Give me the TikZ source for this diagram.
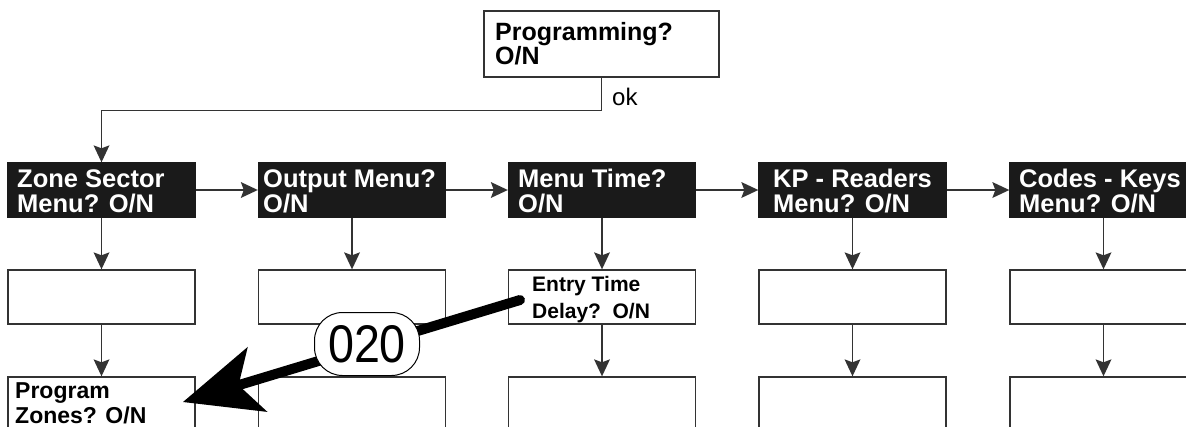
\documentclass[tikz,border=0pt]{standalone}
\usepackage{fontspec}
\setmainfont{Liberation Sans}
\usetikzlibrary{arrows.meta,calc}
\definecolor{menufill}{HTML}{1A1A1A}
\definecolor{edge}{HTML}{333333}
\tikzset{
  box/.style={draw=edge, line width=1.4pt, fill=white, minimum width=187pt,
    minimum height=54pt, inner sep=0pt},
  menubox/.style={box, fill=menufill, draw=menufill},
  topbox/.style={box, minimum width=235pt, minimum height=66pt},
  menutext/.style={text=white, font=\bfseries\fontsize{25.5}{25}\selectfont,
    align=left, inner sep=0pt, anchor=base west},
  itemtext/.style={font=\bfseries\fontsize{21}{27}\selectfont,
    align=left, inner sep=0pt, anchor=base west},
  flow/.style={draw=edge, line width=1.3pt,
    -{Stealth[length=17pt,width=16pt,inset=3pt,line width=0pt]}},
  pointer/.style={line width=10pt, line cap=round, draw=black,
    -{Stealth[length=78pt,width=68pt,inset=20pt,line width=0pt]}},
  badge/.style={draw=black, line width=1pt, fill=white, rounded corners=28pt,
    minimum width=105pt, minimum height=63pt, inner sep=0pt,
    font=\fontsize{53}{53}\selectfont}
}
\begin{document}
\begin{tikzpicture}[x=1pt,y=-1pt]
\clip (0,0) rectangle (1186,426);
\fill[white] (0,0) rectangle (1186,426);

% start question (text nodes are placed by the baseline of their last line)
\node[topbox] (prog) at (601.5,44) {};
\node[itemtext, font=\bfseries\fontsize{25}{24}\selectfont] (progtxt) at (495,64) {Programming?\\O/N};

% main menus
\node[menubox] (m1) at (101.5,190) {};
\node[menubox] (m2) at (352,190) {};
\node[menubox] (m3) at (602,190) {};
\node[menubox] (m4) at (852.5,190) {};
\node[menubox] (m5) at (1103.5,190) {};
\node[menutext] (m1t) at (17,212) {Zone Sector\\Menu? O/N};
\node[menutext] (m2t) at (263,212) {Output Menu?\\O/N};
\node[menutext] (m3t) at (518,212) {Menu Time?\\O/N};
\node[menutext] (m4t) at (773,212) {KP - Readers\\Menu? O/N};
\node[menutext] (m5t) at (1019,212) {Codes - Keys\\Menu? O/N};

% first sub-level
\node[box] (a1) at (101.5,297) {};
\node[box] (a2) at (352,297) {};
\node[box] (a3) at (602,297) {};
\node[box] (a4) at (852.5,297) {};
\node[box] (a5) at (1103.5,297) {};
\node[itemtext] (a3t) at (532,318) {Entry Time\\Delay?\hspace{0.55em}O/N};

% second sub-level
\node[box] (b1) at (101.5,404) {};
\node[box] (b2) at (352,404) {};
\node[box] (b3) at (602,404) {};
\node[box] (b4) at (852.5,404) {};
\node[box] (b5) at (1103.5,404) {};
\node[itemtext, font=\bfseries\fontsize{23}{25}\selectfont] (b1t) at (15,423) {Program\\Zones? O/N};

% flow lines
\draw[flow] (prog.south) -- ++(0,33) -| (m1.north);
\node[anchor=base west, inner sep=0pt, font=\fontsize{24}{24}\selectfont] (ok) at (612,105) {ok};
\foreach \i/\j in {1/2,2/3,3/4,4/5} \draw[flow] (m\i.east) -- (m\j.west);
\foreach \i in {1,...,5} {
  \draw[flow] (m\i.south) -- (a\i.north);
  \draw[flow] (a\i.south) -- (b\i.north);
}

% shortcut pointer
\coordinate (pstart) at (520,300);
\coordinate (ptip) at (183,402);
\draw[pointer] (pstart) -- (ptip);
\node[badge] (code) at (367,344) {\scalebox{0.88}[1]{020}};
\end{tikzpicture}
\end{document}
